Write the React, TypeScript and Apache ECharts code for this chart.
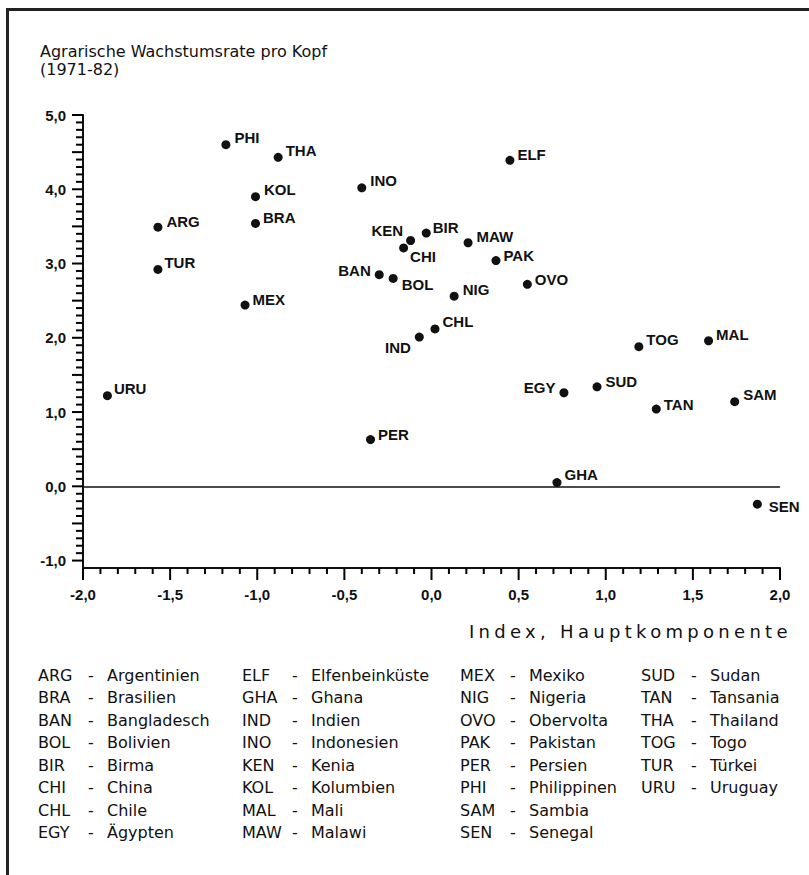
import React, { useEffect, useRef } from "react";
import * as echarts from "echarts";

// ---- data ----
const codes = ["PHI", "THA", "KOL", "BRA", "ARG", "TUR", "MEX", "INO", "KEN", "CHI", "BIR", "BAN", "BOL", "IND", "ELF", "MAW", "PAK", "OVO", "NIG", "CHL", "TOG", "MAL", "URU", "PER", "EGY", "SUD", "TAN", "SAM", "GHA", "SEN"];
const indexValues = [-1.18, -0.88, -1.01, -1.01, -1.57, -1.57, -1.07, -0.40, -0.12, -0.16, -0.03, -0.30, -0.22, -0.07, 0.45, 0.21, 0.37, 0.55, 0.13, 0.02, 1.19, 1.59, -1.86, -0.35, 0.76, 0.95, 1.29, 1.74, 0.72, 1.87];
const growthValues = [4.60, 4.43, 3.90, 3.54, 3.49, 2.92, 2.44, 4.02, 3.31, 3.21, 3.41, 2.85, 2.80, 2.01, 4.39, 3.28, 3.04, 2.72, 2.56, 2.12, 1.88, 1.96, 1.22, 0.63, 1.26, 1.34, 1.04, 1.14, 0.05, -0.24];

const xMajorTicks = [-2, -1.5, -1, -0.5, 0, 0.5, 1, 1.5, 2];
const yMajorTicks = [-1, 0, 1, 2, 3, 4, 5];
const yHalfTicks = [-0.5, 0.5, 1.5, 2.5, 3.5, 4.5];
const tenths = (from: number, to: number) => {
  const out: number[] = [];
  for (let k = Math.round(from * 10); k <= Math.round(to * 10); k++) out.push(k / 10);
  return out;
};
const xMinorTicks = tenths(-2, 2);
const yMinorTicks = tenths(-1, 5);
const X_MIN = -2, X_MAX = 2, Y_MIN = -1.1, Y_MAX = 5.0;

const legendCodes = ["ARG", "BRA", "BAN", "BOL", "BIR", "CHI", "CHL", "EGY", "ELF", "GHA", "IND", "INO", "KEN", "KOL", "MAL", "MAW", "MEX", "NIG", "OVO", "PAK", "PER", "PHI", "SAM", "SEN", "SUD", "TAN", "THA", "TOG", "TUR", "URU"];
const legendNames = ["Argentinien", "Brasilien", "Bangladesch", "Bolivien", "Birma", "China", "Chile", "Ägypten", "Elfenbeinküste", "Ghana", "Indien", "Indonesien", "Kenia", "Kolumbien", "Mali", "Malawi", "Mexiko", "Nigeria", "Obervolta", "Pakistan", "Persien", "Philippinen", "Sambia", "Senegal", "Sudan", "Tansania", "Thailand", "Togo", "Türkei", "Uruguay"];

const titleText = "Agrarische Wachstumsrate pro Kopf\n(1971-82)";
const xAxisName = "Index, Hauptkomponente";

// ---- styling: label placement per point [position, distance, dy] ----
const labelPlacement: Record<string, [string, number, number]> = {
  PHI: ["right", 4, -7], THA: ["right", 3, -7], KOL: ["right", 4, -7], BRA: ["right", 3, -6],
  ARG: ["right", 4, -6], TUR: ["right", 2, -7], MEX: ["right", 3, -6], INO: ["right", 4, -7],
  KEN: ["left", 3, -10], CHI: ["right", 2, 9], BIR: ["right", 2, -6], BAN: ["left", 4, -4],
  BOL: ["right", 4, 6], IND: ["left", 4, 10], ELF: ["right", 3, -6], MAW: ["right", 4, -6],
  PAK: ["right", 3, -5], OVO: ["right", 3, -5], NIG: ["right", 4, -7], CHL: ["right", 3, -7],
  TOG: ["right", 3, -7], MAL: ["right", 3, -6], URU: ["right", 2, -7], PER: ["right", 3, -5],
  EGY: ["left", 4, -5], SUD: ["right", 4, -5], TAN: ["right", 3, -5], SAM: ["right", 4, -7],
  GHA: ["right", 3, -8], SEN: ["right", 7, 2],
};

const INK = "#111";
const fmt = (v: number) => v.toFixed(1).replace(".", ",");
const labelFont = { fontFamily: "Liberation Sans", fontWeight: "bold" as const, fontSize: 15, color: INK };
const near = (a: number, list: number[]) => list.some((b) => Math.abs(a - b) < 1e-6);

function buildLegend() {
  const colX = [38, 242, 460, 641];
  const els: any[] = [];
  legendCodes.forEach((code, i) => {
    const col = Math.floor(i / 8);
    const row = i % 8;
    const x = colX[col];
    const y = 675 + row * 22.5;
    const base = { fontFamily: "DejaVu Sans", fontSize: 16, fill: INK, verticalAlign: "middle", align: "left" };
    els.push({ type: "text", x, y, style: { ...base, text: code } });
    els.push({ type: "text", x: x + 50, y, style: { ...base, text: "-" } });
    els.push({ type: "text", x: x + 69, y, style: { ...base, text: legendNames[i] } });
  });
  return els;
}

export default function App() {
  const ref = useRef<HTMLDivElement>(null);
  useEffect(() => {
    const chart = echarts.init(ref.current!, null, { renderer: "svg" });
    const data = codes.map((c, i) => {
      const p = labelPlacement[c] || ["right", 3, -6];
      return {
        name: c,
        value: [indexValues[i], growthValues[i]],
        label: { position: p[0], distance: p[1], offset: [0, p[2]] },
      };
    });
    const tickStyle = { stroke: "#000", lineWidth: 2 };
    chart.setOption({
      animation: false,
      backgroundColor: "#fff",
      title: {
        text: titleText,
        left: 40,
        top: 42,
        padding: 0,
        textStyle: { fontFamily: "DejaVu Sans", fontSize: 16, fontWeight: "normal", color: INK, lineHeight: 18 },
      },
      grid: { left: 83, right: 29, top: 115, bottom: 307, containLabel: false },
      xAxis: {
        type: "value",
        min: X_MIN,
        max: X_MAX,
        interval: 0.5,
        splitLine: { show: false },
        axisLine: { show: true, onZero: false, lineStyle: { color: INK, width: 2 } },
        axisTick: { show: false },
        axisLabel: { ...labelFont, margin: 19, formatter: (v: number) => fmt(v) },
      },
      yAxis: {
        type: "value",
        min: Y_MIN,
        max: Y_MAX,
        splitLine: { show: false },
        axisLine: { show: true, onZero: false, lineStyle: { color: INK, width: 2 } },
        axisTick: { show: false },
        axisLabel: { show: true, customValues: yMajorTicks, ...labelFont, margin: 17, formatter: (v: number) => fmt(v) },
      },
      series: [
        {
          type: "scatter",
          symbol: "circle",
          symbolSize: 9,
          itemStyle: { color: INK, opacity: 1 },
          label: { show: true, formatter: "{b}", ...labelFont },
          data,
          z: 5,
          markLine: {
            silent: true,
            symbol: "none",
            label: { show: false },
            lineStyle: { color: INK, width: 1.5, type: "solid" },
            data: [{ yAxis: 0 }],
          },
        },
        {
          // y-axis tick marks (every 0,1; longer every 0,5)
          type: "custom",
          silent: true,
          clip: false,
          data: yMinorTicks.map((v) => [X_MIN, v]),
          renderItem: (_p: any, api: any) => {
            const v = api.value(1);
            const pt = api.coord([X_MIN, v]);
            const len = near(v, yMajorTicks) || near(v, yHalfTicks) ? 11 : 7;
            return { type: "line", shape: { x1: pt[0] - len, y1: pt[1], x2: pt[0], y2: pt[1] }, style: tickStyle };
          },
        },
        {
          // x-axis tick marks (every 0,1; longer every 0,5)
          type: "custom",
          silent: true,
          clip: false,
          data: xMinorTicks.map((v) => [v, Y_MIN]),
          renderItem: (_p: any, api: any) => {
            const v = api.value(0);
            const pt = api.coord([v, Y_MIN]);
            const len = near(v, xMajorTicks) ? 12 : 6;
            return { type: "line", shape: { x1: pt[0], y1: pt[1], x2: pt[0], y2: pt[1] + len }, style: tickStyle };
          },
        },
      ],
      graphic: [
        { type: "line", shape: { x1: 7, y1: 9.5, x2: 809, y2: 9.5 }, style: { stroke: "#222", lineWidth: 3 } },
        { type: "line", shape: { x1: 7.5, y1: 8, x2: 7.5, y2: 875 }, style: { stroke: "#222", lineWidth: 3 } },
        {
          type: "text",
          x: 469,
          y: 631,
          style: { text: xAxisName, fontFamily: "DejaVu Sans", fontSize: 18, fill: INK, align: "left", verticalAlign: "middle" },
        },
        ...buildLegend(),
      ],
    });
    return () => chart.dispose();
  }, []);
  return (
    <div style={{ position: "absolute", left: 0, top: 0, width: 809, height: 875, background: "#fff" }}>
      <style>{`.agr-chart svg text[style*="18px"]{letter-spacing:4.3px}`}</style>
      <div ref={ref} className="agr-chart" style={{ width: 809, height: 875 }} />
    </div>
  );
}
